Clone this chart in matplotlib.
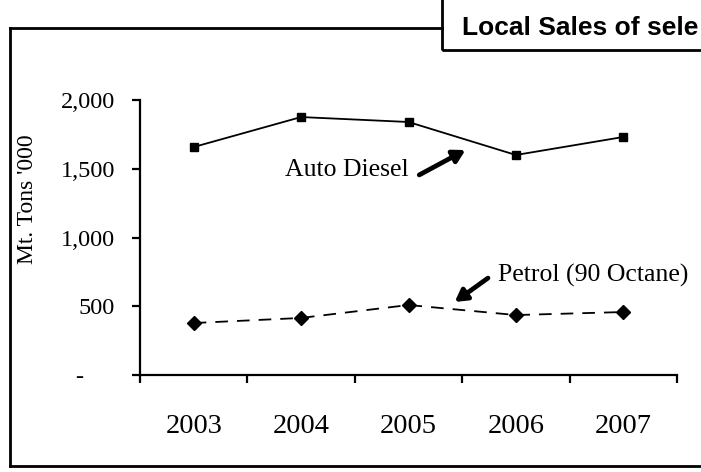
import numpy as np
import matplotlib
matplotlib.use('Agg')
import matplotlib.pyplot as plt
from matplotlib.lines import Line2D
from matplotlib.patches import Rectangle

years = ['2003', '2004', '2005', '2006', '2007']
auto_diesel = [1658, 1876, 1840, 1600, 1731]
petrol_90 = [378, 415, 509, 436, 458]
ytick_vals = [0, 500, 1000, 1500, 2000]
ytick_labels = ['-     ', '500', '1,000', '1,500', '2,000']

W, H = 701, 472
fig = plt.figure(figsize=(W / 100, H / 100), dpi=100)

def fx(px):
    return px / W

def fy(py):
    return 1 - py / H

serif = 'Liberation Serif'

# outer frame of the scanned chart
frame_kw = dict(color='black', lw=2.0, transform=fig.transFigure)
fig.add_artist(Line2D([fx(10), fx(10)], [fy(28), fy(466)], **frame_kw))
fig.add_artist(Line2D([fx(10), fx(442)], [fy(28), fy(28)], **frame_kw))
fig.add_artist(Line2D([fx(10), fx(701)], [fy(466), fy(466)], **frame_kw))

# title box, cut off at the right edge
fig.add_artist(Rectangle((fx(442), fy(50)), fx(300), fy(-5) - fy(50),
                         transform=fig.transFigure, fill=False,
                         ec='black', lw=2.0))
fig.text(fx(462), fy(28), 'Local Sales of sele', family='Liberation Sans',
         weight='bold', fontsize=19, va='center', ha='left')

ax = fig.add_axes([fx(140), fy(375), fx(677) - fx(140), fy(100) - fy(375)])
x = np.arange(len(years))

ax.plot(x, auto_diesel, color='black', lw=1.3, marker='s', markersize=5.5)
ax.plot(x, petrol_90, color='black', lw=1.3, ls=(0, (7, 5)), marker='D',
        markersize=7.5)

ax.set_xlim(-0.5, len(years) - 0.5)
ax.set_ylim(0, 2000)

for s in ['top', 'right']:
    ax.spines[s].set_visible(False)
for s in ['left', 'bottom']:
    ax.spines[s].set_linewidth(1.6)

ax.set_xticks(np.arange(-0.5, len(years)))
ax.set_xticklabels([])
ax.set_xticks(x, minor=True)
ax.set_xticklabels(years, minor=True, family=serif, fontsize=20.5)
ax.tick_params(axis='x', which='major', direction='out', length=6, width=1.6)
ax.tick_params(axis='x', which='minor', length=0, pad=28)

ax.set_yticks(ytick_vals)
ax.set_yticklabels(ytick_labels, family=serif, fontsize=17.5)
ax.tick_params(axis='y', direction='out', length=6, width=1.6, pad=12)

ax.set_ylabel("Mt. Tons '000", family=serif, fontsize=17)
ax.yaxis.set_label_coords(-0.19, 0.64)

arrow_kw = dict(arrowstyle='-|>,head_length=0.7,head_width=0.4',
                color='black', lw=3.4, shrinkA=0, shrinkB=0)
ax.text(1.43, 1491, 'Auto Diesel', family=serif, fontsize=18.5,
        ha='center', va='center')
ax.annotate('', xy=(2.53, 1636), xytext=(2.1, 1455), arrowprops=arrow_kw)
ax.text(3.72, 727, 'Petrol (90 Octane)', family=serif, fontsize=18.5,
        ha='center', va='center')
ax.annotate('', xy=(2.43, 531), xytext=(2.74, 705), arrowprops=arrow_kw)

fig.savefig('out.png', dpi=100)
